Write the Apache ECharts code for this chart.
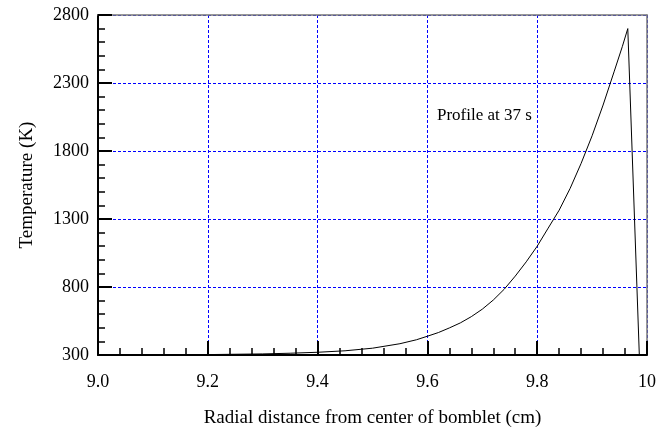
<!DOCTYPE html>
<html>
<head>
<meta charset="utf-8">
<script src="https://cdn.jsdelivr.net/npm/echarts@6/dist/echarts.min.js"></script>
<style>html,body{margin:0;padding:0;background:#fff;}#c{width:666px;height:433px;}</style>
</head>
<body>
<div id="c"></div>
<script>
var radius = [9.0, 9.1, 9.2, 9.3, 9.35, 9.4, 9.45, 9.5, 9.55, 9.58, 9.6, 9.62, 9.64, 9.66, 9.68, 9.7, 9.72, 9.74, 9.76, 9.78, 9.8, 9.82, 9.84, 9.86, 9.88, 9.9, 9.92, 9.94, 9.955, 9.965, 9.986];
var temperature = [300, 301, 303, 308, 313, 320, 331, 350, 383, 412, 438, 465, 499, 536, 582, 637, 704, 784, 880, 985, 1100, 1233, 1365, 1525, 1709, 1912, 2138, 2382, 2567, 2700, 300];
var xTickLabels = ['9.0', '9.2', '9.4', '9.6', '9.8', '10'];
var yTickLabels = ['300', '800', '1300', '1800', '2300', '2800'];
var xTitle = 'Radial distance from center of bomblet (cm)';
var yTitle = 'Temperature (K)';
var annotation = 'Profile at 37 s';

var font = 'Liberation Serif';
var chart = echarts.init(document.getElementById('c'));
var data = radius.map(function (r, i) { return [r, temperature[i]]; });

chart.setOption({
  animation: false,
  backgroundColor: '#fff',
  grid: {left: 98, right: 19, top: 15, bottom: 75, containLabel: false},
  xAxis: [{
    type: 'value', min: 9.0, max: 10, interval: 0.2,
    name: xTitle, nameLocation: 'middle', nameGap: 54,
    nameTextStyle: {fontFamily: font, fontSize: 19, color: '#000'},
    axisLine: {lineStyle: {color: '#000', width: 2}},
    axisTick: {inside: true, length: 14, lineStyle: {color: '#000', width: 2}},
    minorTick: {show: true, splitNumber: 5, length: 7, lineStyle: {color: '#000', width: 1.5}},
    axisLabel: {fontFamily: font, fontSize: 18, color: '#000', margin: 18,
      formatter: function (v) { return xTickLabels[Math.round((v - 9.0) / 0.2)]; }},
    splitLine: {show: true, lineStyle: {color: '#0000ff', width: 1, type: [3, 2]}}
  }, {
    type: 'value', min: 9.0, max: 10, position: 'top',
    axisLine: {show: true, lineStyle: {color: '#777', width: 1.5}},
    axisTick: {show: false}, axisLabel: {show: false}, splitLine: {show: false}
  }],
  yAxis: [{
    type: 'value', min: 300, max: 2800, interval: 500,
    name: yTitle, nameLocation: 'middle', nameGap: 61, nameRotate: 90,
    nameTextStyle: {fontFamily: font, fontSize: 19, color: '#000'},
    axisLine: {show: true, lineStyle: {color: '#000', width: 2}},
    axisTick: {show: true, inside: true, length: 14, lineStyle: {color: '#000', width: 2}},
    minorTick: {show: true, splitNumber: 5, length: 7, lineStyle: {color: '#000', width: 1.5}},
    axisLabel: {fontFamily: font, fontSize: 18, color: '#000', margin: 9,
      formatter: function (v) { return yTickLabels[Math.round((v - 300) / 500)]; }},
    splitLine: {show: true, lineStyle: {color: '#0000ff', width: 1, type: [3, 2]}}
  }, {
    type: 'value', min: 300, max: 2800, position: 'right',
    axisLine: {show: true, lineStyle: {color: '#777', width: 1.5}},
    axisTick: {show: false}, axisLabel: {show: false}, splitLine: {show: false}
  }],
  graphic: [{
    type: 'text', left: 437, top: 107,
    style: {text: annotation, fontFamily: font, fontSize: 17, fill: '#000'}
  }],
  series: [{
    type: 'line', data: data, showSymbol: false, smooth: false,
    lineStyle: {color: '#000', width: 1}, clip: true, z: 5
  }]
});
</script>
</body>
</html>
